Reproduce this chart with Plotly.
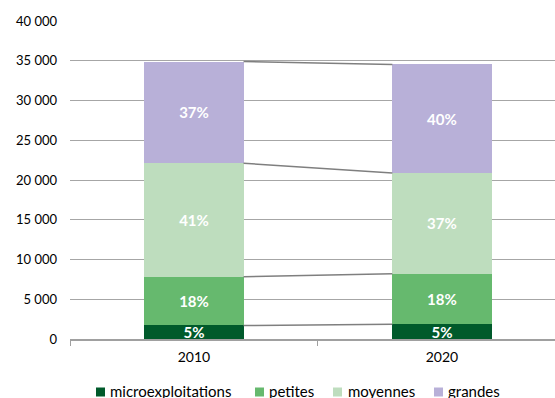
import plotly.graph_objects as go

# Exploitations by size class, 2010 vs 2020
years = ["2010", "2020"]
classes = ["microexploitations", "petites", "moyennes", "grandes"]
micro = [1700, 1850]
petites = [6120, 6350]
moyennes = [14280, 12680]
grandes = [12800, 13650]

series = [micro, petites, moyennes, grandes]
colors = ["#005A2B", "#66B96E", "#BEDDBE", "#B8B0D8"]

totals = [sum(s[i] for s in series) for i in range(len(years))]

FONT = "Lato"
W, H = 555, 398
ML, MR, MT, MB = 70, 0, 21, 59
BAR_W = 0.4

fig = go.Figure()
for name, vals, col in zip(classes, series, colors):
    pct = [f"{round(v / t * 100)}%" for v, t in zip(vals, totals)]
    fig.add_trace(go.Bar(
        x=years, y=vals, name=name, width=BAR_W,
        marker=dict(color=col, line=dict(width=0)),
        text=pct, textposition="inside", insidetextanchor="middle",
        textfont=dict(family=FONT, size=15, color="white", weight="bold"),
        constraintext="none", showlegend=False, hoverinfo="x+y+name",
    ))

# series lines joining the cumulative tops of the two stacks
shapes = []
cum = [0, 0]
for vals in series:
    cum = [c + v for c, v in zip(cum, vals)]
    shapes.append(dict(type="line", xref="x", yref="y",
                       x0=0 + BAR_W / 2, x1=1 - BAR_W / 2, y0=cum[0], y1=cum[1],
                       line=dict(color="#7F7F7F", width=1.5)))

# legend row drawn under the axis
plot_w = W - ML - MR
plot_h = H - MT - MB
def px_x(px):
    return (px - ML) / plot_w
def px_y(py):
    return (H - MB - py) / plot_h

legend_sq = [96, 255, 333, 434]
legend_txt = [108, 267, 346, 446]
sq, ymid = 9, 391
annotations = []
for name, col, sx, tx in zip(classes, colors, legend_sq, legend_txt):
    shapes.append(dict(type="rect", xref="paper", yref="paper",
                       x0=px_x(sx), x1=px_x(sx + sq),
                       y0=px_y(ymid + sq / 2 + 1), y1=px_y(ymid - sq / 2 + 1),
                       fillcolor=col, line=dict(width=0)))
    annotations.append(dict(xref="paper", yref="paper", x=px_x(tx), y=px_y(ymid),
                            text=name, showarrow=False, xanchor="left", yanchor="middle",
                            font=dict(family=FONT, size=15, color="#000000")))

fig.update_layout(
    width=W, height=H,
    margin=dict(l=ML, r=MR, t=MT, b=MB, pad=0),
    paper_bgcolor="white", plot_bgcolor="white",
    barmode="stack", showlegend=False,
    separators=", ",
    font=dict(family=FONT, size=13, color="#000000"),
    uniformtext=dict(minsize=15, mode="show"),
    shapes=shapes, annotations=annotations,
    xaxis=dict(type="category", range=[-0.5, 1.456], tickson="boundaries",
               ticks="outside", ticklen=5, tickcolor="#A0A0A0", tickwidth=1,
               showline=True, linecolor="#A0A0A0", linewidth=1.5,
               ticklabelstandoff=4,
               showgrid=False, tickfont=dict(family=FONT, size=14, color="#000000")),
    yaxis=dict(range=[0, 40000], dtick=5000, tickformat=",d",
               showgrid=True, gridcolor="#A6A6A6", gridwidth=1,
               zeroline=False, showline=False, ticks="",
               ticklabelstandoff=12,
               tickfont=dict(family=FONT, size=13, color="#000000")),
)

fig.write_html("out.html")
